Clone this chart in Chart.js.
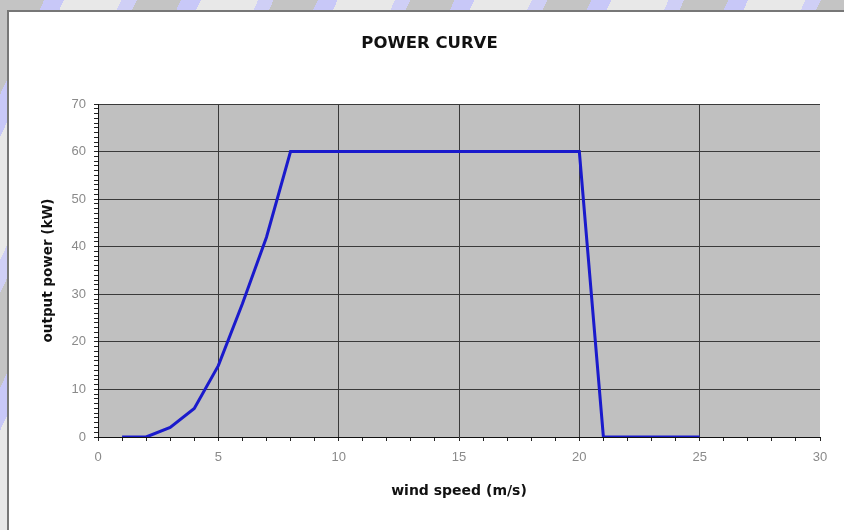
<!DOCTYPE html>
<html>
<head>
<meta charset="utf-8">
<script src="https://cdn.jsdelivr.net/npm/chart.js@4/dist/chart.umd.min.js"></script>
<style>
  html, body { margin: 0; padding: 0; }
  body {
    width: 844px; height: 530px; overflow: hidden; position: relative;
    background: repeating-linear-gradient(115deg, #c4c4c4 0 40px, #c8c8f8 40px 58px, #e8e8e8 58px 110px, #cfcff6 110px 124px);
  }
  #box {
    position: absolute; left: 7px; top: 10px; width: 837px; height: 520px;
    background: #fff; border-left: 2px solid #777; border-top: 2px solid #777;
  }
  #wrap { position: absolute; left: 0; top: 0; width: 835px; height: 518px; }
</style>
</head>
<body>
<div id="box"><div id="wrap"><canvas id="power-chart"></canvas></div></div>
<script>
// wind speed (m/s) and output power (kW)
var windSpeed = [1, 2, 3, 4, 5, 6, 7, 8, 9, 10, 11, 12, 13, 14, 15, 16, 17, 18, 19, 20, 21, 22, 23, 24, 25];
var outputPower = [0, 0, 2, 6, 15, 28, 42, 60, 60, 60, 60, 60, 60, 60, 60, 60, 60, 60, 60, 60, 0, 0, 0, 0, 0];
var xTicks = [0, 5, 10, 15, 20, 25, 30];
var yTicks = [0, 10, 20, 30, 40, 50, 60, 70];

var points = windSpeed.map(function (w, i) {
	return { x: w, y: outputPower[i] };
});

var plotBg = {
	id: "plotBg",
	beforeDraw: function (chart) {
		var a = chart.chartArea;
		var c = chart.ctx;
		c.save();
		c.fillStyle = "#c0c0c0";
		c.fillRect(a.left, a.top, a.right - a.left, a.bottom - a.top);
		c.restore();
	}
};

var labelFont = "'DejaVu Sans', Verdana, sans-serif";
var ctx = document.getElementById("power-chart");

new Chart(ctx, {
	type: "line",
	data: {
		datasets: [
			{
				label: "output power",
				data: points,
				borderColor: "#1a1acc",
				borderWidth: 3,
				pointRadius: 0,
				tension: 0,
				fill: false
			}
		]
	},
	options: {
		responsive: true,
		maintainAspectRatio: false,
		animation: false,
		layout: { padding: { left: 30, right: 24, top: 0, bottom: 0 } },
		plugins: {
			legend: { display: false },
			tooltip: { enabled: false },
			title: {
				display: true,
				text: "POWER CURVE",
				color: "#111",
				font: { family: labelFont, size: 16.5, weight: "bold" },
				padding: { top: 21.5, bottom: 50.7 }
			}
		},
		scales: {
			x: {
				type: "linear",
				min: 0,
				max: 30,
				afterFit: function (s) { s.height = 93; },
				afterBuildTicks: function (s) {
					var t = [];
					for (var i = 0; i <= 30; i++) t.push({ value: i });
					s.ticks = t;
				},
				ticks: {
					autoSkip: false,
					maxRotation: 0,
					color: "#8a8a8a",
					padding: 9,
					font: { family: "Arial, 'Liberation Sans'", size: 13 },
					callback: function (v) { return xTicks.indexOf(v) >= 0 ? String(v) : ""; }
				},
				grid: {
					color: function (c) {
						var v = c.tick && c.tick.value;
						return (v % 5 === 0 && v !== 30 && v !== 0) ? "#3a3a3a" : "rgba(0,0,0,0)";
					},
					tickColor: "#222",
					tickLength: 4
				},
				border: { color: "#111", width: 1 },
				title: {
					display: true,
					text: "wind speed (m/s)",
					color: "#111",
					font: { family: labelFont, size: 14, weight: "bold" },
					padding: { top: 0, bottom: 30.6 }
				}
			},
			y: {
				min: 0,
				max: 70,
				afterFit: function (s) { s.width = 59; },
				afterBuildTicks: function (s) {
					var t = [];
					for (var i = 0; i <= 70; i++) t.push({ value: i });
					s.ticks = t;
				},
				ticks: {
					autoSkip: false,
					color: "#8a8a8a",
					padding: 8,
					font: { family: "Arial, 'Liberation Sans'", size: 13 },
					callback: function (v) { return yTicks.indexOf(v) >= 0 ? String(v) : ""; }
				},
				grid: {
					color: function (c) {
						var v = c.tick && c.tick.value;
						return (v % 10 === 0 && v !== 0) ? "#3a3a3a" : "rgba(0,0,0,0)";
					},
					tickColor: "#222",
					tickLength: 4
				},
				border: { color: "#111", width: 1 },
				title: {
					display: true,
					text: "output power (kW)",
					color: "#111",
					font: { family: labelFont, size: 13.5, weight: "bold" },
					padding: { top: 1, bottom: 0 }
				}
			}
		}
	},
	plugins: [plotBg]
});
</script>
</body>
</html>
